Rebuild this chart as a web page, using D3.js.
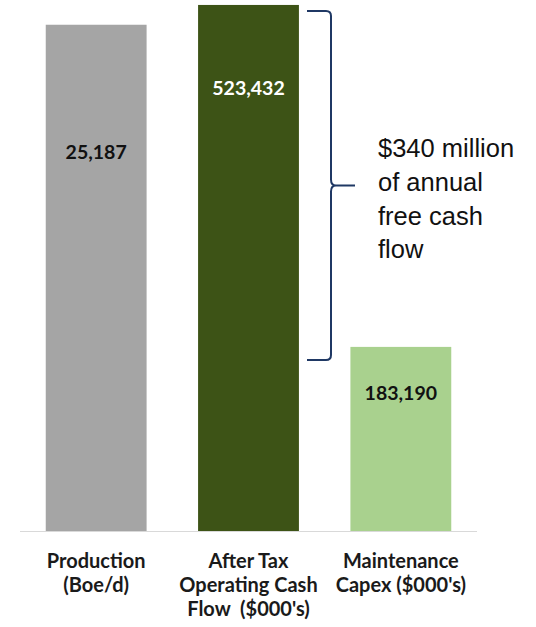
<!DOCTYPE html>
<html>
<head>
<meta charset="utf-8">
<script src="https://cdn.jsdelivr.net/npm/d3@7"></script>
<style>
  html, body { margin: 0; padding: 0; background: #ffffff; }
  svg { display: block; }
</style>
</head>
<body>
<script>
// Chart data
const categories = ["Production", "After Tax OCF", "Maintenance Capex"];
const categoryLabels = [
  ["Production", "(Boe/d)"],
  ["After Tax", "Operating Cash", "Flow  ($000's)"],
  ["Maintenance", "Capex ($000's)"]
];
const values = [25187, 523432, 183190];
// Production is read on its own (secondary) scale; the cash-flow bars share the primary one
const useSecondary = [true, false, false];
const barColors = ["#a5a5a5", "#3d5316", "#a9d18e"];
const labelColors = ["#111111", "#ffffff", "#111111"];
const labelDrop = [134, 90, 53];   // label baseline distance below bar top (px)
const annotationLines = ["$340 million", "of annual", "free cash", "flow"];

const W = 536, H = 627;
const baseY = 531;

const svg = d3.select("body").append("svg")
  .attr("width", W).attr("height", H);

const x = d3.scaleBand()
  .domain(categories)
  .range([20, 477])
  .paddingInner(0.338)
  .paddingOuter(0.169);

const yPrimary = d3.scaleLinear().domain([0, 600000]).range([baseY, -72]);
const ySecondary = d3.scaleLinear().domain([0, 30000]).range([baseY, -72]);
const yFor = i => (useSecondary[i] ? ySecondary : yPrimary);

const rows = categories.map((c, i) => ({ c, i, v: values[i] }));

// Bars
svg.append("g").selectAll("rect")
  .data(rows).join("rect")
  .attr("x", d => x(d.c))
  .attr("width", x.bandwidth())
  .attr("y", d => yFor(d.i)(d.v))
  .attr("height", d => baseY - yFor(d.i)(d.v))
  .attr("fill", d => barColors[d.i]);

// Category axis line
svg.append("line")
  .attr("x1", x.range()[0]).attr("x2", x.range()[1])
  .attr("y1", baseY + 0.5).attr("y2", baseY + 0.5)
  .attr("stroke", "#d9d9d9").attr("stroke-width", 1);

// Value labels
const fmt = d3.format(",");
svg.append("g").selectAll("text")
  .data(rows).join("text")
  .attr("x", d => x(d.c) + x.bandwidth() / 2)
  .attr("y", d => yFor(d.i)(d.v) + labelDrop[d.i])
  .attr("text-anchor", "middle")
  .attr("font-family", "Lato, 'Open Sans', sans-serif")
  .attr("font-weight", "bold")
  .attr("font-size", 19.5)
  .attr("fill", d => labelColors[d.i])
  .text(d => fmt(d.v));

// Category labels
const catG = svg.append("g")
  .attr("font-family", "Lato, 'Open Sans', sans-serif")
  .attr("font-weight", "bold")
  .attr("font-size", 20)
  .attr("fill", "#1a1a1a")
  .attr("text-anchor", "middle");
rows.forEach(d => {
  const t = catG.append("text")
    .attr("x", x(d.c) + x.bandwidth() / 2)
    .attr("y", 568)
    .style("white-space", "pre");
  categoryLabels[d.i].forEach((line, k) => {
    t.append("tspan")
      .attr("x", x(d.c) + x.bandwidth() / 2)
      .attr("dy", k === 0 ? 0 : 24)
      .text(line);
  });
});

// Brace spanning the gap between operating cash flow and maintenance capex
const braceTop = yPrimary(values[1]) + 6;
const braceBot = yPrimary(values[2]) + 13;
const braceMid = (braceTop + braceBot) / 2;
const bx = 331, bl = 307, r = 5;
const brace = d3.path();
brace.moveTo(bl, braceTop);
brace.lineTo(bx - r, braceTop);
brace.quadraticCurveTo(bx, braceTop, bx, braceTop + r);
brace.lineTo(bx, braceMid - 6);
brace.quadraticCurveTo(bx, braceMid, bx + 5, braceMid);
brace.lineTo(355, braceMid);
brace.moveTo(bx + 5, braceMid);
brace.quadraticCurveTo(bx, braceMid, bx, braceMid + 6);
brace.lineTo(bx, braceBot - r);
brace.quadraticCurveTo(bx, braceBot, bx - r, braceBot);
brace.lineTo(bl, braceBot);
svg.append("path")
  .attr("d", brace.toString())
  .attr("fill", "none")
  .attr("stroke", "#1f3864")
  .attr("stroke-width", 2);

// Annotation
const ann = svg.append("text")
  .attr("font-family", "'Liberation Sans', Arial, sans-serif")
  .attr("font-size", 25.5)
  .attr("fill", "#111111");
annotationLines.forEach((line, k) => {
  ann.append("tspan")
    .attr("x", 378)
    .attr("y", 157 + k * 33.8)
    .text(line);
});
</script>
</body>
</html>
